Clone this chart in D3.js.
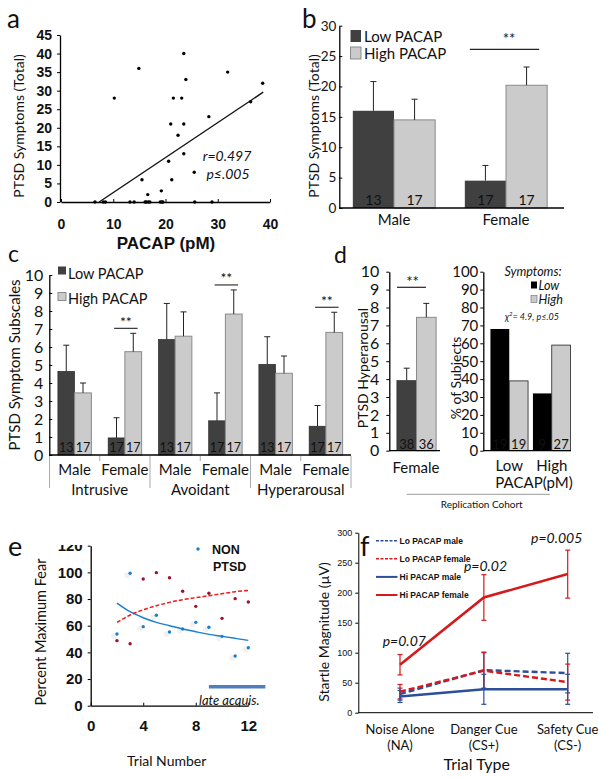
<!DOCTYPE html>
<html><head><meta charset="utf-8">
<script src="https://cdn.jsdelivr.net/npm/d3@7"></script>
<style>body{margin:0;background:#fff} svg{display:block} text{font-family:Lato,'Open Sans',sans-serif;fill:#111}</style>
</head><body><svg id="c" width="601" height="777"></svg>
<script>
// ---------------- DATA ----------------
// Panel a: scatter PACAP vs PTSD symptoms
const aPacap = [10.2,14.9,15.5,16.6,19.2,20.6,21.0,21.2,21.5,22.4,23.1,23.5,23.5,23.5,23.9,25.5,28.3,31.9,36.3,38.6,
                6.5,8.1,8.5,13.2,14.0,16.1,16.3,16.7,17.0,19.0,19.3,19.5,25.6,28.9];
const aSymptoms = [28,36,6,2,3,11,21,6,28,18,28,40,21,13,33,8,23,35,27,32,
                   0,0,0,0,0,0,0,0,0,0,0,0,0,0];
const aFitX = [7.3,38.7];
const aFitY = [0,29.6];
const aXTicks = [0,10,20,30,40];
const aYTicks = [0,5,10,15,20,25,30,35,40,45];

// Panel b
const bSex = ["Male","Female"];
const bLowMean = [16.0,4.5];
const bLowSE = [4.8,2.5];
const bHighMean = [14.5,20.2];
const bHighSE = [3.4,3.0];
const bLowN = [13,17];
const bHighN = [17,17];
const bYTicks = [0,5,10,15,20,25,30];

// Panel c
const cSubscales = ["Intrusive","Avoidant","Hyperarousal"];
const cSex = ["Male","Female"];
const cLowMean = [4.65,0.95,6.42,1.9,5.04,1.6];
const cLowSE = [1.45,1.12,2.0,1.55,1.53,1.15];
const cHighMean = [3.45,5.74,6.6,7.83,4.54,6.81];
const cHighSE = [0.55,1.02,1.35,1.34,0.96,1.12];
const cLowN = [13,17,13,17,13,17];
const cHighN = [17,17,17,17,17,17];
const cSig = [false,true,false,true,false,true];
const cYTicks = [0,1,2,3,4,5,6,7,8,9,10];

// Panel d
const dLeftGroup = ["Female"];
const dLeftMean = [3.92,7.45];
const dLeftSE = [0.69,0.78];
const dLeftN = [38,36];
const dPacap = ["Low","High"];
const dLowSympPct = [68,32];
const dHighSympPct = [39,59];
const dLowSympN = [19,9];
const dHighSympN = [19,27];
const dRightTicks = [0,10,20,30,40,50,60,70,80,90,100];

// Panel e
const eTrials = [2,3,4,5,6,7,8,9,10,11,12];
const eNonPtsd = [53.8,99.3,59.3,67.8,55.3,57.5,62.5,58.8,52,37.3,43.5];
const ePtsd = [48.8,46.5,95,99.8,96,85.8,74.5,84.3,65.5,80.3,77.8];
const eNonTrend = [77,70.5,66,62.5,60,57.5,55.5,53.5,52,50.5,49];
const ePtsdTrend = [62.5,68,72,75,77.5,79.5,81,82.5,84,85.5,86.5];
const eXTicks = [0,4,8,12];
const eYTicks = [0,20,40,60,80,100,120];
const eLateAcq = [9,13.3];

// Panel f
const fTrialTypes = ["NA","CS+","CS-"];
const fTrialLabels = [["Noise Alone","(NA)"],["Danger Cue","(CS+)"],["Safety Cue","(CS-)"]];
const fLoMale = [31,71,66];
const fLoMaleErr = [10,30,33];
const fLoFemale = [35,70,51];
const fLoFemaleErr = [12,30,30];
const fHiMale = [27,39,39];
const fHiMaleErr = [10,25,25];
const fHiFemale = [80,192,231];
const fHiFemaleErr = [17,38,40];
const fPvals = ["p=0.07","p=0.02","p=0.005"];
const fYTicks = [0,50,100,150,200,250,300];

// ---------------- DRAW ----------------
const svg = d3.select("#c");
const ARIAL = "'Liberation Sans',Arial,sans-serif";
const DARK = "#404040", LIGHT = "#cbcbcb", LIGHTSTROKE = "#8a8a8a";

function letter(t,x,y,s){svg.append("text").attr("x",x).attr("y",y).style("font-size",s+"px").text(t);}
function styleAxis(g,font,size,weight){
  g.selectAll("path.domain").attr("stroke","#000").attr("stroke-width",1.3);
  g.selectAll(".tick line").attr("stroke","#000");
  g.selectAll("text").style("font-family",font).style("font-size",size+"px").style("font-weight",weight||"normal").attr("fill","#111");
}
function errBar(g,x,y0,y1,color,cap,w){
  g.append("line").attr("x1",x).attr("x2",x).attr("y1",y0).attr("y2",y1).attr("stroke",color).attr("stroke-width",w||1);
  g.append("line").attr("x1",x-cap).attr("x2",x+cap).attr("y1",y1).attr("y2",y1).attr("stroke",color).attr("stroke-width",w||1);
}
function rotTitle(t,x,y,size){svg.append("text").attr("transform",`translate(${x},${y}) rotate(-90)`).attr("text-anchor","middle").attr("dominant-baseline","central").style("font-size",size+"px").text(t);}
function ctext(t,x,y,size,opt){const e=svg.append("text").attr("x",x).attr("y",y).attr("text-anchor","middle").attr("dominant-baseline","central").style("font-size",size+"px").text(t);
  if(opt){if(opt.italic)e.style("font-style","italic");if(opt.bold)e.style("font-weight","bold");if(opt.font)e.style("font-family",opt.font);if(opt.fill)e.attr("fill",opt.fill);if(opt.anchor)e.attr("text-anchor",opt.anchor);} return e;}

// ===== Panel a =====
letter("a",7,28,26);
const ax = d3.scaleLinear().domain([0,40]).range([61,270]);
const ay = d3.scaleLinear().domain([0,45]).range([202,35]);
const gaX = svg.append("g").attr("transform","translate(0,202)").call(d3.axisBottom(ax).tickValues(aXTicks).tickSize(-3).tickSizeOuter(0).tickPadding(17));
styleAxis(gaX,ARIAL,14,"bold");
const gaY = svg.append("g").attr("transform","translate(60,0)").call(d3.axisLeft(ay).tickValues(aYTicks).tickSize(3).tickSizeOuter(0).tickPadding(5));
styleAxis(gaY,ARIAL,14,"bold");
svg.append("g").selectAll("circle").data(aPacap.map((x,i)=>[x,aSymptoms[i]])).join("circle")
  .attr("cx",d=>ax(d[0])).attr("cy",d=>ay(d[1])).attr("r",1.7).attr("fill","#000");
svg.append("line").attr("x1",ax(aFitX[0])).attr("y1",ay(aFitY[0])).attr("x2",ax(aFitX[1])).attr("y2",ay(aFitY[1])).attr("stroke","#111").attr("stroke-width",1.4);
ctext("r=0.497",227,155,14,{italic:true});
ctext("p≤.005",228,173,14,{italic:true});
rotTitle("PTSD Symptoms (Total)",18,126,14);
ctext("PACAP (pM)",166,243,17,{bold:true,font:ARIAL});

// ===== Panel b =====
letter("b",302,28,26);
const bx = d3.scaleBand().domain(bSex).range([338,562]);
const bxi = d3.scaleBand().domain(["low","high"]).range([0,bx.bandwidth()]).paddingOuter(0.36);
const by = d3.scaleLinear().domain([0,30]).range([208,25.7]);
const gbY = svg.append("g").attr("transform","translate(339.3,0)").call(d3.axisLeft(by).tickValues(bYTicks).tickSize(-3).tickSizeOuter(0).tickPadding(3));
styleAxis(gbY,"Lato",13.5);
const gb = svg.append("g");
bSex.forEach((s,i)=>{
  const xl = bx(s)+bxi("low"), xh = bx(s)+bxi("high"), w = bxi.bandwidth();
  gb.append("rect").attr("x",xl).attr("y",by(bLowMean[i])).attr("width",w).attr("height",by(0)-by(bLowMean[i])).attr("fill",DARK);
  gb.append("rect").attr("x",xh).attr("y",by(bHighMean[i])).attr("width",w).attr("height",by(0)-by(bHighMean[i])).attr("fill",LIGHT).attr("stroke",LIGHTSTROKE);
  errBar(gb,xl+w/2,by(bLowMean[i]),by(bLowMean[i]+bLowSE[i]),"#222",3);
  errBar(gb,xh+w/2,by(bHighMean[i]),by(bHighMean[i]+bHighSE[i]),"#222",3);
  ctext(bLowN[i],xl+w/2,199,14,{fill:"#fff"});
  ctext(bHighN[i],xh+w/2,199,14,{fill:"#222"});
  ctext(s,bx(s)+bx.bandwidth()/2,219,15);
});
svg.append("line").attr("x1",339.3).attr("x2",564).attr("y1",208).attr("y2",208).attr("stroke","#000").attr("stroke-width",1.3);
// legend b
gb.append("rect").attr("x",350.5).attr("y",30).attr("width",10.5).attr("height",12).attr("fill",DARK);
gb.append("rect").attr("x",350.5).attr("y",47).attr("width",10.5).attr("height",12).attr("fill",LIGHT).attr("stroke",LIGHTSTROKE);
ctext("Low PACAP",364,36,15,{anchor:"start"});
ctext("High PACAP",364,52.5,15,{anchor:"start"});
// significance
gb.append("line").attr("x1",bx("Female")+bxi("low")+5).attr("x2",bx("Female")+bxi("high")+bxi.bandwidth()-8).attr("y1",49.3).attr("y2",49.3).attr("stroke","#222").attr("stroke-width",1.2);
ctext("**",509,38,15);
rotTitle("PTSD Symptoms (Total)",313,126,14);

// ===== Panel c =====
letter("c",8,262,23);
const cCats = [];
cSubscales.forEach(s=>cSex.forEach(x=>cCats.push(s+"|"+x)));
const cx = d3.scaleBand().domain(cCats).range([49.5,351]);
const cxi = d3.scaleBand().domain(["low","high"]).range([0,cx.bandwidth()]).paddingOuter(0.5);
const cy = d3.scaleLinear().domain([0,10]).range([455,275]);
const gcY = svg.append("g").attr("transform","translate(49.3,0)").call(d3.axisLeft(cy).tickValues(cYTicks).tickSize(-3).tickSizeOuter(0).tickPadding(6));
styleAxis(gcY,"Lato",16);
const gc = svg.append("g");
cCats.forEach((c,i)=>{
  const xl = cx(c)+cxi("low"), xh = cx(c)+cxi("high"), w = cxi.bandwidth();
  gc.append("rect").attr("x",xl).attr("y",cy(cLowMean[i])).attr("width",w).attr("height",cy(0)-cy(cLowMean[i])).attr("fill",DARK).attr("stroke","#222").attr("stroke-width",0.6);
  gc.append("rect").attr("x",xh).attr("y",cy(cHighMean[i])).attr("width",w).attr("height",cy(0)-cy(cHighMean[i])).attr("fill",LIGHT).attr("stroke",LIGHTSTROKE);
  errBar(gc,xl+w/2,cy(cLowMean[i]),cy(cLowMean[i]+cLowSE[i]),"#222",3);
  errBar(gc,xh+w/2,cy(cHighMean[i]),cy(cHighMean[i]+cHighSE[i]),"#222",3);
  ctext(cLowN[i],xl+w/2,447.5,12.5,{fill:"#fff"});
  ctext(cHighN[i],xh+w/2,447.5,12.5,{fill:"#222"});
  ctext(c.split("|")[1],cx(c)+cx.bandwidth()/2,469,15);
  if(cSig[i]){
    const top = cy(cHighMean[i]+cHighSE[i]);
    gc.append("line").attr("x1",xl+6).attr("x2",xh+w-4).attr("y1",top-5).attr("y2",top-5).attr("stroke","#222").attr("stroke-width",1.1);
    ctext("**",xh+1,top-12,14);
  }
});
svg.append("line").attr("x1",49.3).attr("x2",351).attr("y1",455).attr("y2",455).attr("stroke","#000").attr("stroke-width",1.3);
cCats.forEach((c,i)=>{
  const x = cx(c);
  const long = i%2===0;
  svg.append("line").attr("x1",x).attr("x2",x).attr("y1",456).attr("y2",long?488:461).attr("stroke","#aaa");
});
svg.append("line").attr("x1",351).attr("x2",351).attr("y1",456).attr("y2",488).attr("stroke","#aaa");
cSubscales.forEach((s,i)=>{
  const x0 = cx(s+"|Male"), x1 = cx(s+"|Female")+cx.bandwidth();
  ctext(s,(x0+x1)/2,489,15);
});
// legend c
gc.append("rect").attr("x",58).attr("y",266.5).attr("width",8).attr("height",8).attr("fill",DARK);
gc.append("rect").attr("x",58).attr("y",292.5).attr("width",8).attr("height",8).attr("fill",LIGHT).attr("stroke",LIGHTSTROKE);
ctext("Low PACAP",68,273,14.5,{anchor:"start"});
ctext("High PACAP",68,298,14.5,{anchor:"start"});
rotTitle("PTSD Symptom Subscales",14,365,15);

// ===== Panel d (left) =====
letter("d",334,263,23);
const dlx = d3.scaleBand().domain(dLeftGroup).range([391,442]);
const dlxi = d3.scaleBand().domain(["low","high"]).range([0,dlx.bandwidth()]).paddingOuter(0.3);
const dy = d3.scaleLinear().domain([0,10]).range([450.7,271.7]);
const gdY = svg.append("g").attr("transform","translate(389.3,0)").call(d3.axisLeft(dy).tickValues(cYTicks).tickSize(3).tickSizeOuter(0).tickPadding(7));
styleAxis(gdY,"Lato",16);
const gd = svg.append("g");
{
  const xl = dlx("Female")+dlxi("low"), xh = dlx("Female")+dlxi("high"), w = dlxi.bandwidth();
  gd.append("rect").attr("x",xl).attr("y",dy(dLeftMean[0])).attr("width",w).attr("height",dy(0)-dy(dLeftMean[0])).attr("fill",DARK).attr("stroke","#222").attr("stroke-width",0.6);
  gd.append("rect").attr("x",xh).attr("y",dy(dLeftMean[1])).attr("width",w).attr("height",dy(0)-dy(dLeftMean[1])).attr("fill",LIGHT).attr("stroke",LIGHTSTROKE);
  errBar(gd,xl+w/2,dy(dLeftMean[0]),dy(dLeftMean[0]+dLeftSE[0]),"#222",3);
  errBar(gd,xh+w/2,dy(dLeftMean[1]),dy(dLeftMean[1]+dLeftSE[1]),"#222",3);
  ctext(dLeftN[0],xl+w/2,443.5,13,{fill:"#fff"});
  ctext(dLeftN[1],xh+w/2,443.5,13,{fill:"#222"});
  gd.append("line").attr("x1",397).attr("x2",426).attr("y1",287.3).attr("y2",287.3).attr("stroke","#222").attr("stroke-width",1.2);
  ctext("**",412.5,281,15);
  ctext("Female",416,467,15);
}
svg.append("line").attr("x1",389.3).attr("x2",440).attr("y1",450.7).attr("y2",450.7).attr("stroke","#000").attr("stroke-width",1.3);
rotTitle("PTSD Hyperarousal",362,368,14);

// ===== Panel d (right) =====
const drx = d3.scaleBand().domain(dPacap).range([488,573]);
const drxi = d3.scaleBand().domain(["low","high"]).range([0,drx.bandwidth()]).paddingOuter(0.13);
const dry = d3.scaleLinear().domain([0,100]).range([450.7,271.7]);
const gdrY = svg.append("g").attr("transform","translate(483.3,0)").call(d3.axisLeft(dry).tickValues(dRightTicks).tickSize(3).tickSizeOuter(0).tickPadding(2));
styleAxis(gdrY,"Lato",15);
dPacap.forEach((p,i)=>{
  const xl = drx(p)+drxi("low"), xh = drx(p)+drxi("high"), w = drxi.bandwidth();
  gd.append("rect").attr("x",xl).attr("y",dry(dLowSympPct[i])).attr("width",w).attr("height",dry(0)-dry(dLowSympPct[i])).attr("fill","#000");
  gd.append("rect").attr("x",xh).attr("y",dry(dHighSympPct[i])).attr("width",w).attr("height",dry(0)-dry(dHighSympPct[i])).attr("fill",LIGHT).attr("stroke","#222").attr("stroke-width",0.8);
  ctext(dLowSympN[i],xl+w/2,443.5,13,{fill:"#fff"});
  ctext(dHighSympN[i],xh+w/2,443.5,13,{fill:"#222"});
  ctext(p,drx(p)+drx.bandwidth()/2,465,15);
});
svg.append("line").attr("x1",483.3).attr("x2",571).attr("y1",450.7).attr("y2",450.7).attr("stroke","#000").attr("stroke-width",1.3);
ctext("PACAP(pM)",534,481.7,15);
rotTitle("% of Subjects",455,378,14);
ctext("Symptoms:",533,271.5,12.5,{italic:true});
gd.append("rect").attr("x",531).attr("y",281.5).attr("width",6).attr("height",7).attr("fill","#000");
gd.append("rect").attr("x",531).attr("y",295.5).attr("width",6).attr("height",7).attr("fill",LIGHT).attr("stroke","#666").attr("stroke-width",0.6);
ctext("Low",538.5,285,12.5,{italic:true,anchor:"start"});
ctext("High",538.5,299,12.5,{italic:true,anchor:"start"});
{
  const t = svg.append("text").attr("x",532).attr("y",316).attr("text-anchor","middle").attr("dominant-baseline","central").style("font-size","9px").style("font-style","italic");
  t.append("tspan").text("χ");
  t.append("tspan").attr("dy",-3).style("font-size","6px").text("2");
  t.append("tspan").attr("dy",3).text("= 4.9, p≤.05");
}
svg.append("line").attr("x1",406.7).attr("x2",550).attr("y1",494.3).attr("y2",494.3).attr("stroke","#999");
ctext("Replication Cohort",481.7,503.5,10);

// ===== Panel e =====
letter("e",8,556,27);
const ex = d3.scaleLinear().domain([0,12]).range([90.7,248.3]);
const ey = d3.scaleLinear().domain([0,120]).range([705.7,545.7]);
svg.append("clipPath").attr("id","eclip").append("rect").attr("x",-100).attr("y",545).attr("width",300).attr("height",232);
const geX = svg.append("g").attr("transform","translate(0,705.7)").call(d3.axisBottom(ex).tickValues(eXTicks).tickSize(-3).tickSizeOuter(0).tickPadding(15));
styleAxis(geX,ARIAL,15,"bold");
const geY = svg.append("g").attr("transform","translate(90.7,0)").call(d3.axisLeft(ey).tickValues(eYTicks).tickSize(3).tickSizeOuter(0).tickPadding(5));
styleAxis(geY,ARIAL,15,"bold");
geY.attr("clip-path","url(#eclip)");
const ge = svg.append("g");
// faint shadows
ge.selectAll("circle.sh").data(eTrials).join("circle").attr("class","sh").attr("cx",(d)=>ex(d)-3).attr("cy",(d,i)=>ey(eNonPtsd[i])+2).attr("r",2.8).attr("fill","#f1f1f1");
ge.append("path").datum(eTrials.map((t,i)=>[t,eNonTrend[i]])).attr("d",d3.line().x(d=>ex(d[0])).y(d=>ey(d[1])).curve(d3.curveMonotoneX)).attr("fill","none").attr("stroke","#1b7fd0").attr("stroke-width",1.5);
ge.append("path").datum(eTrials.map((t,i)=>[t,ePtsdTrend[i]])).attr("d",d3.line().x(d=>ex(d[0])).y(d=>ey(d[1])).curve(d3.curveMonotoneX)).attr("fill","none").attr("stroke","#f01818").attr("stroke-width",1.5).attr("stroke-dasharray","4,2");
ge.selectAll("circle.b").data(eTrials).join("circle").attr("class","b").attr("cx",d=>ex(d)).attr("cy",(d,i)=>ey(eNonPtsd[i])).attr("r",1.7).attr("fill","#1b7fd0");
ge.selectAll("circle.r").data(eTrials).join("circle").attr("class","r").attr("cx",d=>ex(d)).attr("cy",(d,i)=>ey(ePtsd[i])).attr("r",1.7).attr("fill","#a0102a");
ge.append("circle").attr("cx",198).attr("cy",549).attr("r",1.7).attr("fill","#1b7fd0");
ctext("NON",212,550,12.5,{bold:true,font:ARIAL,anchor:"start"});
ctext("PTSD",213,567,12.5,{bold:true,font:ARIAL,anchor:"start"});
ge.append("line").attr("x1",ex(eLateAcq[0])).attr("x2",ex(eLateAcq[1])).attr("y1",686.7).attr("y2",686.7).attr("stroke","#4f7fc0").attr("stroke-width",3.5);
ctext("late acquis.",199,700,13,{italic:true,anchor:"start"});
ctext("Trial Number",166.7,760,14);
rotTitle("Percent Maximum Fear",40,632,14.5);

// ===== Panel f =====
letter("f",360,556,27);
const fx = d3.scalePoint().domain(fTrialTypes).range([400,567.7]);
const fy = d3.scaleLinear().domain([0,300]).range([712.7,532.7]);
const gfY = svg.append("g").attr("transform","translate(358.3,0)").call(d3.axisLeft(fy).tickValues(fYTicks).tickSize(3).tickSizeOuter(0).tickPadding(3));
styleAxis(gfY,ARIAL,9);
gfY.select("path.domain").attr("stroke-width",1);
svg.append("line").attr("x1",358.3).attr("x2",593).attr("y1",712.7).attr("y2",712.7).attr("stroke","#000").attr("stroke-width",1);
fTrialTypes.forEach((t,i)=>{
  ctext(fTrialLabels[i][0],fx(t),728.5,13);
  ctext(fTrialLabels[i][1],fx(t),744.5,13);
});
ctext("Trial Type",476.7,763.3,16);
rotTitle("Startle Magnitude (µV)",323.3,632,14);
const BLUE = "#2b4f9a", RED = "#d41a1a";
const fSeries = [
  {name:"Lo PACAP male",v:fLoMale,e:fLoMaleErr,c:BLUE,dash:"6,3"},
  {name:"Lo PACAP female",v:fLoFemale,e:fLoFemaleErr,c:RED,dash:"6,3"},
  {name:"Hi PACAP male",v:fHiMale,e:fHiMaleErr,c:BLUE,dash:null},
  {name:"Hi PACAP female",v:fHiFemale,e:fHiFemaleErr,c:RED,dash:null}
];
const gf = svg.append("g");
const fline = d3.line().x(d=>fx(d[0])).y(d=>fy(d[1]));
fSeries.forEach(s=>{
  fTrialTypes.forEach((t,i)=>{
    const x = fx(t);
    gf.append("line").attr("x1",x).attr("x2",x).attr("y1",fy(s.v[i]-s.e[i])).attr("y2",fy(s.v[i]+s.e[i])).attr("stroke",s.c).attr("stroke-width",1.2);
    [s.v[i]-s.e[i],s.v[i]+s.e[i]].forEach(v=>gf.append("line").attr("x1",x-2.5).attr("x2",x+2.5).attr("y1",fy(v)).attr("y2",fy(v)).attr("stroke",s.c).attr("stroke-width",1.2));
  });
});
fSeries.forEach(s=>{
  const p = gf.append("path").datum(fTrialTypes.map((t,i)=>[t,s.v[i]])).attr("d",fline).attr("fill","none").attr("stroke",s.c).attr("stroke-width",s.c===RED&&!s.dash?2.6:2.4);
  if(s.dash) p.attr("stroke-dasharray",s.dash);
});
// legend f
fSeries.forEach((s,i)=>{
  const y = 540.7 + i*18.1;
  const l = gf.append("line").attr("x1",376).attr("x2",397.5).attr("y1",y).attr("y2",y).attr("stroke",s.c).attr("stroke-width",s.dash?1.6:2);
  if(s.dash) l.attr("stroke-dasharray","3,1.5");
  ctext(s.name,399.5,y,8.5,{anchor:"start",bold:true,font:ARIAL});
});
ctext(fPvals[0],404.3,640.7,14,{italic:true});
ctext(fPvals[1],485.5,565,14,{italic:true});
ctext(fPvals[2],556.7,537.3,14,{italic:true});
</script></body></html>
